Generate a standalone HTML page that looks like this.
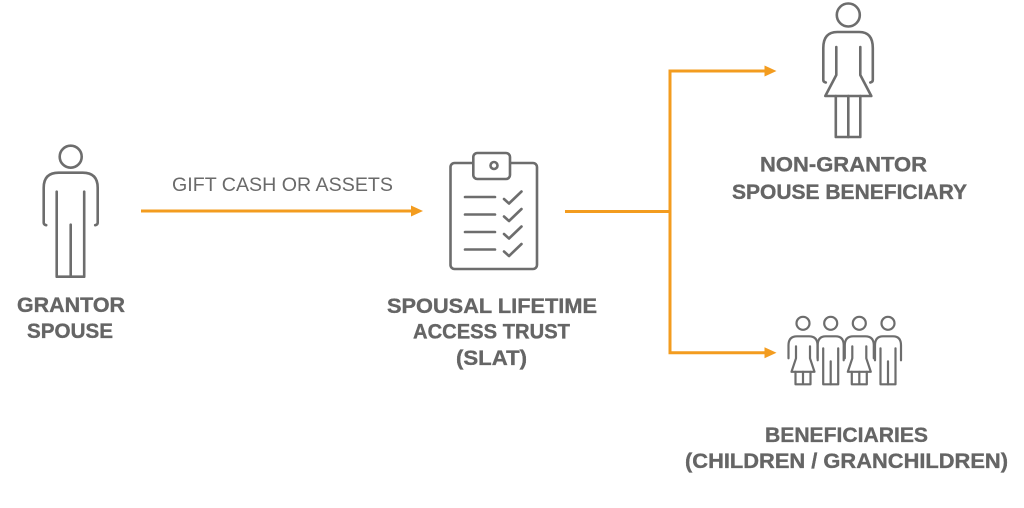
<!DOCTYPE html>
<html>
<head>
<meta charset="utf-8">
<style>
html,body{margin:0;padding:0;background:#fff;}
svg{display:block;}
.lbl{font-family:"Liberation Sans",Arial,sans-serif;font-weight:bold;font-size:21px;fill:#656565;stroke:#656565;stroke-width:0.35;}
.gift{font-family:"Liberation Sans",Arial,sans-serif;font-size:19px;fill:#6a6a6a;}
.ic{fill:none;stroke:#6d6d6d;stroke-width:2.6;stroke-linecap:round;stroke-linejoin:round;}
.kid{fill:none;stroke:#6d6d6d;stroke-width:2.2;stroke-linecap:round;stroke-linejoin:round;}
.or{fill:none;stroke:#F39C1F;stroke-width:3;}
.ah{fill:#F39C1F;}
</style>
</head>
<body>
<svg width="1024" height="508" viewBox="0 0 1024 508" xmlns="http://www.w3.org/2000/svg">
  <rect width="1024" height="508" fill="#fff"/>

  <!-- Grantor man -->
  <g transform="translate(70.7,156.7)" class="ic">
    <circle cx="0" cy="0" r="11"/>
    <path d="M -24.5,68.5 Q -27,68 -27,66 L -27,31 Q -27,16 -12,16 L 12,16 Q 27,16 27,31 L 27,66 Q 27,68 24.5,68.5"/>
    <path d="M -14,35 L -14,120 L 13.5,120 L 13.5,35"/>
    <path d="M 0,68 L 0,120"/>
  </g>

  <!-- Arrow 1 -->
  <line class="or" x1="141" y1="211" x2="413" y2="211"/>
  <polygon class="ah" points="423,211 411,205.5 411,216.5"/>
  <text class="gift" x="172" y="191" textLength="221" lengthAdjust="spacingAndGlyphs">GIFT CASH OR ASSETS</text>

  <!-- Clipboard -->
  <g class="ic">
    <rect x="450.5" y="163" width="86.5" height="106" rx="4"/>
    <rect x="473.3" y="153" width="36.7" height="26" rx="4" fill="#fff"/>
    <circle cx="494" cy="165.5" r="3.5"/>
    <path d="M 465,197 L 495,197 M 465,214.5 L 495,214.5 M 465,232 L 495,232 M 465,249.5 L 495,249.5"/>
    <path d="M 504,199 L 509,203.5 L 521.5,191.5"/>
    <path d="M 504,216.5 L 509,221 L 521.5,209"/>
    <path d="M 504,234 L 509,238.5 L 521.5,226.5"/>
    <path d="M 504,251.5 L 509,256 L 521.5,244"/>
  </g>

  <!-- Branch connector -->
  <line class="or" x1="565" y1="211.5" x2="670" y2="211.5"/>
  <path class="or" d="M 766,71 L 670,71 L 670,352.7 L 766,352.7"/>
  <polygon class="ah" points="776.5,71 764.5,65.5 764.5,76.5"/>
  <polygon class="ah" points="776.5,352.7 764.5,347.2 764.5,358.2"/>

  <!-- Woman -->
  <g transform="translate(848.3,15)" class="ic">
    <circle cx="0" cy="0" r="11.5"/>
    <path d="M -22.5,67.5 Q -25,67 -25,65 L -25,33 Q -25,17 -11,17 L 11,17 Q 24.5,17 24.5,33 L 24.5,65 Q 24.5,67 22,67.5"/>
    <path d="M -12,32 L -12,60 L -23,81 L 23,81 L 12,60 L 12,32"/>
    <path d="M -12.5,81 L -12.5,122 L 12,122 L 12,81"/>
    <path d="M 0,81 L 0,122"/>
  </g>

  <!-- Kids -->
  <defs>
    <g id="girl" class="kid">
      <circle cx="0" cy="0" r="6.5"/>
      <path d="M -14.5,35 L -14.5,22 Q -14.5,13 -6,13 L 6,13 Q 14.5,13 14.5,22 L 14.5,35"/>
      <path d="M -7,23 L -7,35 L -11.5,48.5 L 11.5,48.5 L 7,35 L 7,23"/>
      <path d="M -7.5,48.5 L -7.5,61 L 7.5,61 L 7.5,48.5 M 0,48.5 L 0,61"/>
    </g>
    <g id="boy" class="kid">
      <circle cx="0" cy="0" r="6.5"/>
      <path d="M -13,37 L -13,22 Q -13,13 -5,13 L 5,13 Q 13,13 13,22 L 13,37"/>
      <path d="M -7.5,25 L -7.5,61 L 7.5,61 L 7.5,25"/>
      <path d="M 0,38 L 0,61"/>
    </g>
  </defs>
  <use href="#girl" x="803" y="323.3"/>
  <use href="#boy" x="830.7" y="323.3"/>
  <use href="#girl" x="859.3" y="323.3"/>
  <use href="#boy" x="888" y="323.3"/>

  <!-- Labels -->
  <text class="lbl" x="17" y="312" textLength="108" lengthAdjust="spacingAndGlyphs">GRANTOR</text>
  <text class="lbl" x="27" y="338" textLength="86" lengthAdjust="spacingAndGlyphs">SPOUSE</text>

  <text class="lbl" x="387" y="313" textLength="210" lengthAdjust="spacingAndGlyphs">SPOUSAL LIFETIME</text>
  <text class="lbl" x="413" y="338.5" textLength="157" lengthAdjust="spacingAndGlyphs">ACCESS TRUST</text>
  <text class="lbl" x="456" y="365" textLength="71" lengthAdjust="spacingAndGlyphs">(SLAT)</text>

  <text class="lbl" x="760" y="171.5" textLength="167" lengthAdjust="spacingAndGlyphs">NON-GRANTOR</text>
  <text class="lbl" x="732" y="199" textLength="235" lengthAdjust="spacingAndGlyphs">SPOUSE BENEFICIARY</text>

  <text class="lbl" x="765" y="442" textLength="163" lengthAdjust="spacingAndGlyphs">BENEFICIARIES</text>
  <text class="lbl" x="685" y="468" textLength="323" lengthAdjust="spacingAndGlyphs">(CHILDREN / GRANCHILDREN)</text>
</svg>
</body>
</html>
